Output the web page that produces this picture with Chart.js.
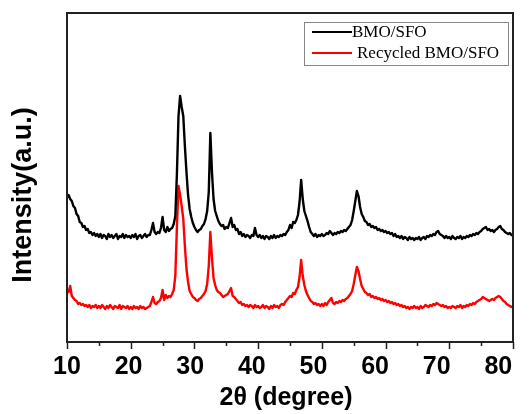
<!DOCTYPE html>
<html>
<head>
<meta charset="utf-8">
<script src="https://cdn.jsdelivr.net/npm/chart.js@4.4.0/dist/chart.umd.min.js"></script>
<style>
  html, body { margin: 0; padding: 0; background: #fff; }
  #wrap { width: 531px; height: 414px; }
</style>
</head>
<body>
<div id="wrap"><canvas id="xrd" width="531" height="414"></canvas></div>
<script>
// XRD scan: 10-80 degrees, 0.25 degree step
const THETA_START = 10;
const THETA_STEP = 0.25;

// one row = 5 degrees (20 samples), last value is 80.00
const bmoSfo = [
  144,147,143,141,136,134,128,126,120,119,115,116,112,113,109,110,107,109,106,108,
  105,108,104,107,106,103,108,105,107,104,106,108,103,106,105,108,104,107,105,106,
  104,107,105,108,103,106,107,104,106,108,105,107,107,112,119,110,108,110,109,114,
  125,112,110,115,111,113,114,118,126,168,226,246,235,226,196,170,147,133,125,119,
  115,112,110,112,113,116,118,123,131,150,209,170,143,131,126,121,118,116,117,113,
  115,114,119,124,115,117,112,113,108,110,106,108,105,107,106,104,107,106,114,107,
  105,107,104,106,103,106,105,103,106,104,107,104,106,105,107,106,108,107,110,112,
  117,114,120,119,122,127,140,162,143,131,126,121,115,110,108,106,108,105,107,106,
  108,106,107,109,108,111,109,107,109,108,110,109,111,110,112,111,113,115,117,122,
  131,141,151,146,135,128,125,121,120,117,118,115,116,114,115,112,113,111,112,110,
  111,109,110,108,109,106,108,105,106,104,106,103,105,104,102,105,103,104,102,104,
  103,105,102,104,105,103,106,105,107,106,108,107,110,111,108,107,106,104,106,104,
  105,103,106,104,103,105,104,106,103,105,104,106,105,107,106,108,107,109,108,110,
  111,113,114,115,112,113,111,112,110,112,113,115,116,113,112,110,109,108,109,107,
  107
];

const recycled = [
  52,50,56,46,44,42,41,38,39,37,38,36,37,35,37,34,36,35,37,34,
  36,34,37,35,33,36,34,37,35,33,36,35,34,37,33,36,35,34,36,33,
  35,33,36,34,35,33,36,34,35,33,34,35,36,40,45,39,38,40,41,44,
  52,42,47,44,46,45,48,52,66,115,156,147,136,123,96,73,60,51,48,45,
  44,42,41,43,44,46,48,51,58,76,110,84,64,57,52,50,49,47,45,46,
  47,48,51,54,46,45,43,41,39,40,37,38,36,37,35,37,36,34,37,35,
  36,34,35,37,34,36,35,33,36,34,37,35,36,34,37,38,37,40,42,44,
  46,45,49,48,52,55,65,82,66,57,51,47,44,41,40,38,39,37,38,36,
  38,36,39,37,40,42,44,39,38,40,39,41,40,42,41,43,44,46,48,51,
  58,67,75,71,63,56,53,50,49,47,48,45,46,44,45,43,44,42,43,41,
  42,40,41,39,40,38,39,37,38,36,37,35,36,34,35,33,35,34,36,34,
  35,33,36,34,35,37,36,35,37,36,38,37,39,38,37,36,37,35,36,34,
  35,34,36,35,34,36,35,37,34,36,35,37,36,38,37,39,38,40,41,42,
  43,45,44,43,42,41,42,43,42,44,45,46,45,43,41,40,38,37,36,35,
  36
];

const majorTicks = [10, 20, 30, 40, 50, 60, 70, 80];
const minorTicks = [15, 25, 35, 45, 55, 65, 75];
const seriesNames = ['BMO/SFO', 'Recycled BMO/SFO'];
const seriesColors = ['#000000', '#ff0000'];

const twoTheta = bmoSfo.map((_, i) => THETA_START + i * THETA_STEP);

function toPoints(values) {
  return values.map((v, i) => ({ x: twoTheta[i], y: v }));
}

// frame, ticks, axis titles and the boxed legend
const decorations = {
  id: 'decorations',
  afterDraw(chart) {
    const ctx = chart.ctx;
    const area = chart.chartArea;
    const xs = chart.scales.x;
    ctx.save();

    // plot frame
    ctx.strokeStyle = '#222';
    ctx.lineWidth = 2;
    ctx.strokeRect(area.left, area.top, area.right - area.left, area.bottom - area.top);

    // outward ticks on the bottom axis
    ctx.lineWidth = 1.5;
    ctx.beginPath();
    majorTicks.forEach(v => {
      const px = Math.round(xs.getPixelForValue(v)) + 0.5;
      ctx.moveTo(px, area.bottom);
      ctx.lineTo(px, area.bottom + 7);
    });
    minorTicks.forEach(v => {
      const px = Math.round(xs.getPixelForValue(v)) + 0.5;
      ctx.moveTo(px, area.bottom);
      ctx.lineTo(px, area.bottom + 4);
    });
    ctx.stroke();

    // tick labels
    ctx.fillStyle = '#000';
    ctx.font = 'bold 25px "Liberation Sans", Arial, sans-serif';
    ctx.textAlign = 'center';
    ctx.textBaseline = 'middle';
    majorTicks.forEach(v => {
      const px = xs.getPixelForValue(v) - (v - THETA_START) * 0.21;
      ctx.fillText(String(v), px, area.bottom + 25);
    });

    // axis titles
    ctx.fillText('2θ (degree)', 286, 398);
    ctx.save();
    ctx.translate(24, 195);
    ctx.rotate(-Math.PI / 2);
    ctx.font = 'bold 27px "Liberation Sans", Arial, sans-serif';
    ctx.fillText('Intensity(a.u.)', 0, 0);
    ctx.restore();

    // legend box
    ctx.strokeStyle = '#888';
    ctx.lineWidth = 1;
    ctx.strokeRect(304.5, 22.5, 204, 43);
    ctx.font = '17px "Liberation Serif", "Times New Roman", serif';
    ctx.textAlign = 'left';
    const rows = [{ y: 32, textX: 352 }, { y: 53, textX: 357 }];
    chart.data.datasets.forEach((ds, i) => {
      ctx.strokeStyle = ds.borderColor;
      ctx.lineWidth = 2;
      ctx.beginPath();
      ctx.moveTo(312, rows[i].y);
      ctx.lineTo(352, rows[i].y);
      ctx.stroke();
      ctx.fillStyle = '#000';
      ctx.fillText(ds.label, rows[i].textX, rows[i].y + 1);
    });

    ctx.restore();
  }
};

new Chart(document.getElementById('xrd'), {
  type: 'line',
  data: {
    datasets: [
      { label: seriesNames[0], data: toPoints(bmoSfo), borderColor: seriesColors[0], borderWidth: 2.4, pointRadius: 0, tension: 0, borderJoinStyle: 'round' },
      { label: seriesNames[1], data: toPoints(recycled), borderColor: seriesColors[1], borderWidth: 2.4, pointRadius: 0, tension: 0, borderJoinStyle: 'round' }
    ]
  },
  options: {
    responsive: false,
    animation: false,
    layout: { padding: { left: 67, right: 18, top: 13, bottom: 72 } },
    plugins: { legend: { display: false }, tooltip: { enabled: false } },
    scales: {
      x: { type: 'linear', min: 10, max: 80, display: false },
      y: { min: 0, max: 329, display: false }
    }
  },
  plugins: [decorations]
});
</script>
</body>
</html>
